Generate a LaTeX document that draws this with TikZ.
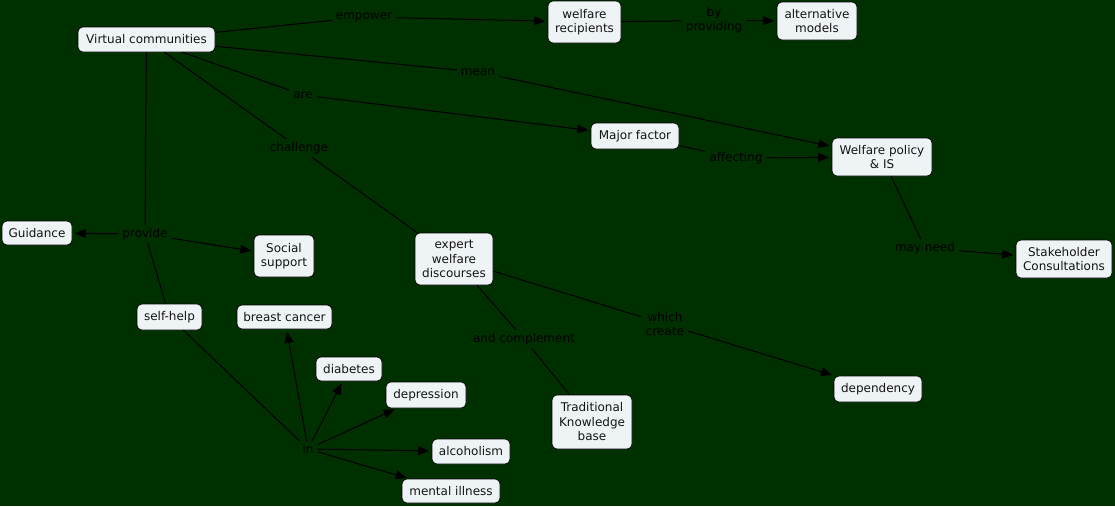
\documentclass[tikz,border=0pt]{standalone}
\usepackage{fontspec}
\setmainfont{DejaVu Sans}
\usetikzlibrary{arrows.meta}
\definecolor{bg}{RGB}{0,48,0}
\definecolor{boxfill}{RGB}{238,243,246}
\definecolor{boxtext}{RGB}{20,20,20}
\begin{document}
\begin{tikzpicture}[x=1pt,y=-1pt,
  concept/.style={draw=black, fill=boxfill, rounded corners=5pt, align=center,
    font=\fontsize{12}{14.5}\selectfont, inner sep=1pt, text=boxtext, line width=0.6pt},
  lbl/.style={align=center, font=\fontsize{12}{14}\selectfont, text=black, inner xsep=4pt, inner ysep=3pt},
  conn/.style={draw=black, line width=1pt},
  arr/.style={conn, -{Triangle[length=11pt,width=9pt]}, shorten >=2.5pt}]
\fill[bg] (0,0) rectangle (1115,506);
\useasboundingbox (0,0) rectangle (1115,506);

% concepts
\node[concept, minimum width=137pt, minimum height=25pt] (vc) at (146.5,39.5) {Virtual communities};
\node[concept, minimum width=73pt, minimum height=42pt] (wr) at (584.5,22) {welfare\\recipients};
\node[concept, minimum width=80pt, minimum height=38pt] (am) at (817,21) {alternative\\models};
\node[concept, minimum width=88pt, minimum height=26pt] (mf) at (635,136) {Major factor};
\node[concept, minimum width=100pt, minimum height=38pt] (wp) at (882,157) {Welfare policy\\\& IS};
\node[concept, minimum width=70pt, minimum height=24pt] (gd) at (37,233) {Guidance};
\node[concept, minimum width=60pt, minimum height=42pt] (ss) at (284,256) {Social\\support};
\node[concept, minimum width=78pt, minimum height=52pt] (ew) at (454,259) {expert\\welfare\\discourses};
\node[concept, minimum width=96pt, minimum height=38pt] (sc) at (1064,259) {Stakeholder\\Consultations};
\node[concept, minimum width=65pt, minimum height=26pt] (sh) at (169.5,317) {self-help};
\node[concept, minimum width=95pt, minimum height=24pt] (bc) at (284.5,317) {breast cancer};
\node[concept, minimum width=66pt, minimum height=24pt] (db) at (349,369) {diabetes};
\node[concept, minimum width=80pt, minimum height=26pt] (dp) at (426,395) {depression};
\node[concept, minimum width=78pt, minimum height=25pt] (al) at (471,451.5) {alcoholism};
\node[concept, minimum width=98pt, minimum height=24pt] (mi) at (451,491) {mental illness};
\node[concept, minimum width=80pt, minimum height=54pt] (tk) at (592,422) {Traditional\\Knowledge\\base};
\node[concept, minimum width=88pt, minimum height=26pt] (dy) at (878,389) {dependency};

% linking phrases
\node[lbl] (l1) at (364,17) {empower};
\node[lbl] (l2) at (714,20.5) {by\\providing};
\node[lbl] (l3) at (478,72) {mean};
\node[lbl] (l4) at (303,95) {are};
\node[lbl] (l5) at (299,148) {challenge};
\node[lbl] (l6) at (736,158) {affecting};
\node[lbl] (l7) at (145,234) {provide};
\node[lbl] (l8) at (925,248) {may need};
\node[lbl] (l9) at (308,449) {in};
\node[lbl] (l10) at (524,339) {and complement};
\node[lbl] (l11) at (665,324) {which\\create};

% connectors
\draw[conn] (vc) -- (l1);
\draw[arr] (l1) -- (wr);
\draw[conn] (wr) -- (l2);
\draw[arr] (l2) -- (am);
\draw[conn] (vc) -- (l3);
\draw[arr] (l3) -- (wp);
\draw[conn] (vc) -- (l4);
\draw[arr] (l4) -- (mf);
\draw[conn] (vc) -- (l5);
\draw[conn] (l5) -- (ew);
\draw[conn] (mf) -- (l6);
\draw[arr] (l6) -- (wp);
\draw[conn] (vc) -- (l7);
\draw[arr] (l7) -- (gd);
\draw[arr] (l7) -- (ss);
\draw[conn] (l7) -- (sh);
\draw[conn] (sh) -- (l9);
\draw[arr] (l9) -- (bc);
\draw[arr] (l9) -- (db);
\draw[arr] (l9) -- (dp);
\draw[arr] (l9) -- (al);
\draw[arr] (l9) -- (mi);
\draw[conn] (ew) -- (l10);
\draw[conn] (l10) -- (tk);
\draw[conn] (ew) -- (l11);
\draw[arr] (l11) -- (dy);
\draw[conn] (wp) -- (l8);
\draw[arr] (l8) -- (sc);
\end{tikzpicture}
\end{document}
